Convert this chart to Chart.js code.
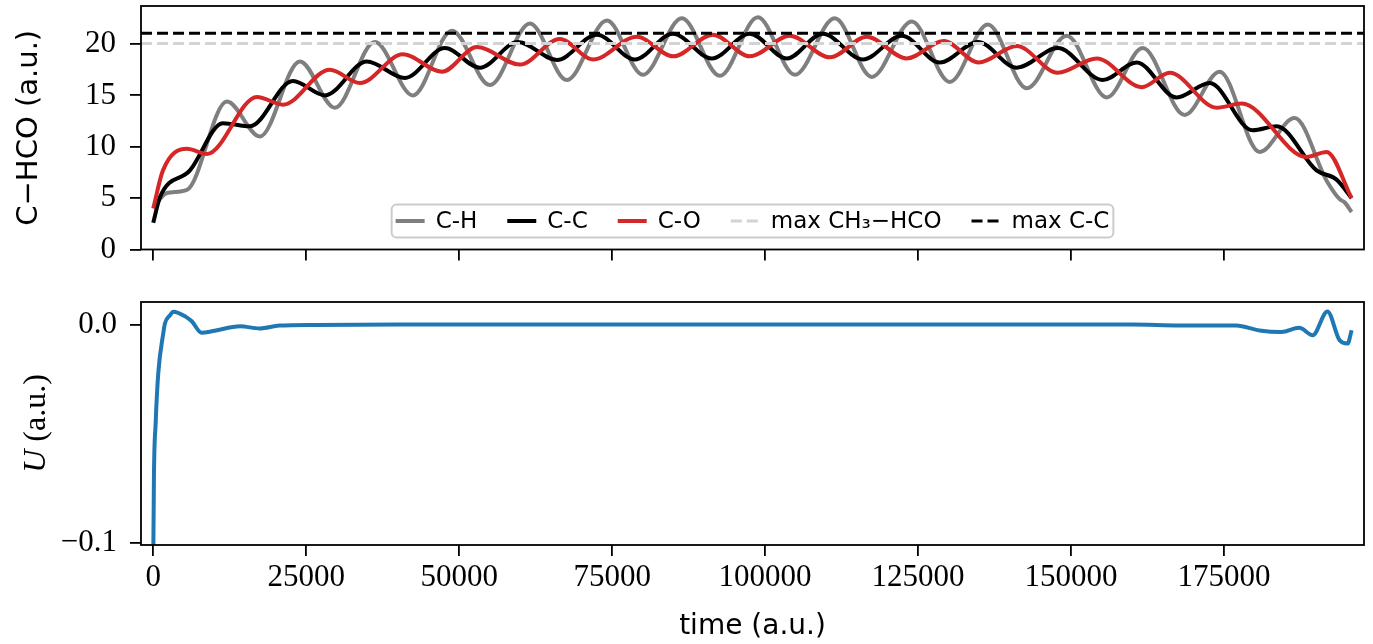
<!DOCTYPE html>
<html>
<head>
<meta charset="utf-8">
<script src="https://cdn.jsdelivr.net/npm/chart.js@4.4.1/dist/chart.umd.min.js"></script>
<style>
  html, body { margin: 0; padding: 0; background: #fff; }
  #wrap { position: relative; width: 1373px; height: 644px; }
  #topChart { position: absolute; left: 0; top: 0; }
  #bottomChart { position: absolute; left: 0; top: 290px; }
</style>
</head>
<body>
<div id="wrap">
  <canvas id="topChart" width="1373" height="290"></canvas>
  <canvas id="bottomChart" width="1373" height="354"></canvas>
</div>
<script>
// bond lengths vs time
var chTime = [0, 2240, 5500, 12040, 17430, 23970, 29680, 36220, 42440, 48810, 55020, 61560, 67600, 74140, 80020, 86390, 92600, 98810, 104860, 111390, 117440, 123970, 130180, 136400, 142760, 149300, 155830, 161710, 168570, 174290, 180820, 186540, 191770, 193900, 194700, 195860];
var chVal  = [4.1, 5.5, 5.8, 14.4, 11.0, 18.3, 13.8, 20.2, 15.0, 21.3, 16.0, 22.0, 16.5, 22.3, 17.0, 22.5, 16.9, 22.6, 17.0, 22.5, 16.8, 22.2, 16.3, 21.9, 15.7, 20.8, 14.8, 19.6, 13.1, 17.3, 9.5, 12.8, 6.7, 4.9, 4.6, 3.65];

var ccTime = [0, 1100, 6000, 11380, 15800, 22830, 28060, 34920, 41130, 47670, 53380, 59590, 65970, 72500, 78710, 84920, 91290, 97500, 103550, 109430, 115970, 122340, 128550, 134760, 141130, 147830, 155180, 160730, 167260, 172650, 179680, 183600, 190130, 193400, 195860];
var ccVal  = [2.6, 5.1, 7.7, 12.3, 12.0, 16.4, 15.0, 18.3, 16.7, 19.6, 17.7, 20.2, 18.45, 20.9, 18.5, 21.0, 18.6, 21.0, 18.6, 21.0, 18.5, 20.8, 18.2, 20.2, 17.7, 19.6, 16.5, 18.2, 14.8, 16.2, 11.6, 12.0, 7.7, 6.8, 5.0];

var coTime = [0, 1590, 5500, 8770, 16950, 21190, 28870, 33770, 40800, 47180, 52890, 59920, 66460, 71850, 79040, 85000, 91460, 97500, 104040, 110580, 116620, 123150, 129200, 134900, 141130, 147830, 154200, 161550, 166120, 173800, 177880, 188500, 191770, 195860];
var coVal  = [4.0, 7.7, 9.8, 9.3, 14.85, 14.1, 17.5, 16.2, 19.0, 17.3, 19.7, 18.0, 20.5, 18.5, 20.7, 18.8, 20.9, 18.8, 20.8, 18.7, 20.7, 18.6, 20.3, 18.2, 19.8, 17.2, 18.6, 15.8, 17.2, 13.8, 14.2, 9.0, 9.5, 5.0];

var maxCH3HCO = 20.05;
var maxCC = 21.05;

// energy
var uTime = [0, 114, 392, 817, 1634, 1912, 2729, 3268, 5340, 6300, 7909, 9800, 14190, 17400, 20600, 26400, 40000, 80000, 120000, 160000, 167800, 177000, 180800, 184400, 187300, 189500, 191900, 193900, 195200, 195860];
var uVal  = [-0.11, -0.0696, -0.0452, -0.0224, -0.0041, 0.0005, 0.0042, 0.0058, 0.0035, 0.0015, -0.0038, -0.003, -0.0008, -0.0018, -0.0005, -0.0002, 0, 0, 0, 0, -0.0004, -0.0005, -0.0027, -0.0034, -0.0015, -0.0049, 0.006, -0.0072, -0.0087, -0.0026];

var xRange = [-2000, 197880];
var xTicks = [0, 25000, 50000, 75000, 100000, 125000, 150000, 175000];
var topYRange = [0, 23.7];
var topYTicks = [0, 5, 10, 15, 20];
var uRange = [-0.1008, 0.0103];
var uTicks = [-0.1, 0.0];
var uTickLabels = ['\u22120.1', '0.0'];

function pts(xs, ys) {
    return xs.map(function(x, i){ return {x: x, y: ys[i]}; });
}

Chart.defaults.color = '#000';

var tickFont = {family: '"Liberation Serif", serif', size: 31};
var titleFont = {family: '"DejaVu Sans", sans-serif', size: 28};

// matplotlib-like box around the axes
var framePlugin = {
    id: 'frame',
    afterDraw: function(chart) {
        var a = chart.chartArea, ctx = chart.ctx;
        ctx.save();
        ctx.strokeStyle = '#000';
        ctx.lineWidth = 1.8;
        ctx.strokeRect(a.left, a.top, a.right - a.left, a.bottom - a.top);
        ctx.restore();
    }
};

// legend inside the axes, lower center, one row
var boxLegend = {
    id: 'boxLegend',
    afterDatasetsDraw: function(chart) {
        var ctx = chart.ctx, a = chart.chartArea, sets = chart.data.datasets;
        var handle = 29, pad = 11, gap = 30, inner = 4, h = 33;
        ctx.save();
        ctx.font = '23px "DejaVu Sans"';
        var widths = sets.map(function(d){ return ctx.measureText(d.label).width; });
        var total = inner * 2 + gap * (sets.length - 1);
        widths.forEach(function(w){ total += handle + pad + w; });
        var left = (a.left + a.right) / 2 - total / 2;
        var bottom = a.bottom - 12;
        var top = bottom - h;
        ctx.beginPath();
        ctx.roundRect(left, top, total, h, 5);
        ctx.fillStyle = 'rgba(255,255,255,0.8)';
        ctx.fill();
        ctx.strokeStyle = '#cccccc';
        ctx.lineWidth = 2;
        ctx.stroke();
        var x = left + inner, cy = (top + bottom) / 2;
        sets.forEach(function(d, i){
            ctx.beginPath();
            ctx.setLineDash(d.borderDash || []);
            ctx.strokeStyle = d.borderColor;
            ctx.lineWidth = d.borderWidth;
            ctx.moveTo(x, cy);
            ctx.lineTo(x + handle, cy);
            ctx.stroke();
            ctx.setLineDash([]);
            ctx.fillStyle = '#000';
            ctx.textBaseline = 'middle';
            ctx.textAlign = 'left';
            ctx.fillText(d.label, x + handle + pad, cy + 1);
            x += handle + pad + widths[i] + gap;
        });
        ctx.restore();
    }
};

// y label of the lower panel: italic U + upright (a.u.)
var uLabel = {
    id: 'uLabel',
    afterDraw: function(chart) {
        var ctx = chart.ctx, a = chart.chartArea;
        var parts = [['italic 32px "Liberation Serif"', 'U'], ['32px "Liberation Serif"', ' (a.u.)']];
        ctx.save();
        ctx.translate(37, (a.top + a.bottom) / 2);
        ctx.rotate(-Math.PI / 2);
        var total = 0;
        parts.forEach(function(p){ ctx.font = p[0]; total += ctx.measureText(p[1]).width; });
        var x = -total / 2;
        ctx.fillStyle = '#000';
        ctx.textBaseline = 'middle';
        ctx.textAlign = 'left';
        parts.forEach(function(p){ ctx.font = p[0]; ctx.fillText(p[1], x, 0); x += ctx.measureText(p[1]).width; });
        ctx.restore();
    }
};

function tickGrid() {
    return {drawOnChartArea: false, drawTicks: true, tickLength: 11, color: '#000', lineWidth: 1.8};
}

var lineElements = {
    point: {radius: 0},
    line: {cubicInterpolationMode: 'monotone', fill: false}
};

const top_chart = new Chart(document.getElementById('topChart'), {
    type: 'line',
    data: {
        datasets: [
            {label: 'C-H', data: pts(chTime, chVal), borderColor: '#7f7f7f', borderWidth: 4, order: 5},
            {label: 'C-C', data: pts(ccTime, ccVal), borderColor: '#000000', borderWidth: 4, order: 4},
            {label: 'C-O', data: pts(coTime, coVal), borderColor: '#d62728', borderWidth: 4, order: 3},
            {label: 'max CH\u2083\u2212HCO', data: pts(xRange, [maxCH3HCO, maxCH3HCO]), borderColor: '#d3d3d3', borderWidth: 3, borderDash: [11, 5], order: 2},
            {label: 'max C-C', data: pts(xRange, [maxCC, maxCC]), borderColor: '#000000', borderWidth: 3, borderDash: [11, 5], order: 1}
        ]
    },
    options: {
        responsive: false,
        animation: false,
        devicePixelRatio: 1,
        events: [],
        elements: lineElements,
        layout: {padding: {top: 6, right: 9, left: 0, bottom: 0}},
        plugins: {legend: {display: false}, tooltip: {enabled: false}},
        scales: {
            x: {
                type: 'linear', min: xRange[0], max: xRange[1],
                afterBuildTicks: function(s){ s.ticks = xTicks.map(function(v){ return {value: v}; }); },
                afterFit: function(s){ s.height = 40.5; s.paddingLeft = 0; s.paddingRight = 0; },
                ticks: {display: false},
                grid: tickGrid(),
                border: {display: false}
            },
            y: {
                min: topYRange[0], max: topYRange[1],
                afterBuildTicks: function(s){ s.ticks = topYTicks.map(function(v){ return {value: v}; }); },
                afterFit: function(s){ s.width = 141; s.paddingTop = 0; s.paddingBottom = 0; },
                ticks: {font: tickFont, color: '#000', padding: 14},
                grid: tickGrid(),
                border: {display: false},
                title: {display: true, text: 'C\u2212HCO (a.u.)', font: {family: '"DejaVu Sans", sans-serif', size: 29}, color: '#000', padding: {top: 12, bottom: 0}}
            }
        }
    },
    plugins: [framePlugin, boxLegend]
});

const bottom_chart = new Chart(document.getElementById('bottomChart'), {
    type: 'line',
    data: {
        datasets: [
            {label: 'U', data: pts(uTime, uVal), borderColor: '#1f77b4', borderWidth: 4, clip: 0}
        ]
    },
    options: {
        responsive: false,
        animation: false,
        devicePixelRatio: 1,
        events: [],
        elements: lineElements,
        layout: {padding: {top: 12, right: 9, left: 0, bottom: 0}},
        plugins: {legend: {display: false}, tooltip: {enabled: false}},
        scales: {
            x: {
                type: 'linear', min: xRange[0], max: xRange[1],
                afterBuildTicks: function(s){ s.ticks = xTicks.map(function(v){ return {value: v}; }); },
                afterFit: function(s){ s.height = 99; s.paddingLeft = 0; s.paddingRight = 0; },
                ticks: {font: tickFont, color: '#000', padding: 3, maxRotation: 0,
                        callback: function(v){ return String(v); }},
                grid: tickGrid(),
                border: {display: false},
                title: {display: true, text: 'time (a.u.)', font: titleFont, color: '#000', padding: {top: 0, bottom: 0}}
            },
            y: {
                min: uRange[0], max: uRange[1],
                afterBuildTicks: function(s){ s.ticks = uTicks.map(function(v){ return {value: v}; }); },
                afterFit: function(s){ s.width = 141; s.paddingTop = 0; s.paddingBottom = 0; },
                ticks: {font: tickFont, color: '#000', padding: 13,
                        callback: function(v){ return uTickLabels[uTicks.indexOf(v)]; }},
                grid: tickGrid(),
                border: {display: false}
            }
        }
    },
    plugins: [framePlugin, uLabel]
});
</script>
</body>
</html>
